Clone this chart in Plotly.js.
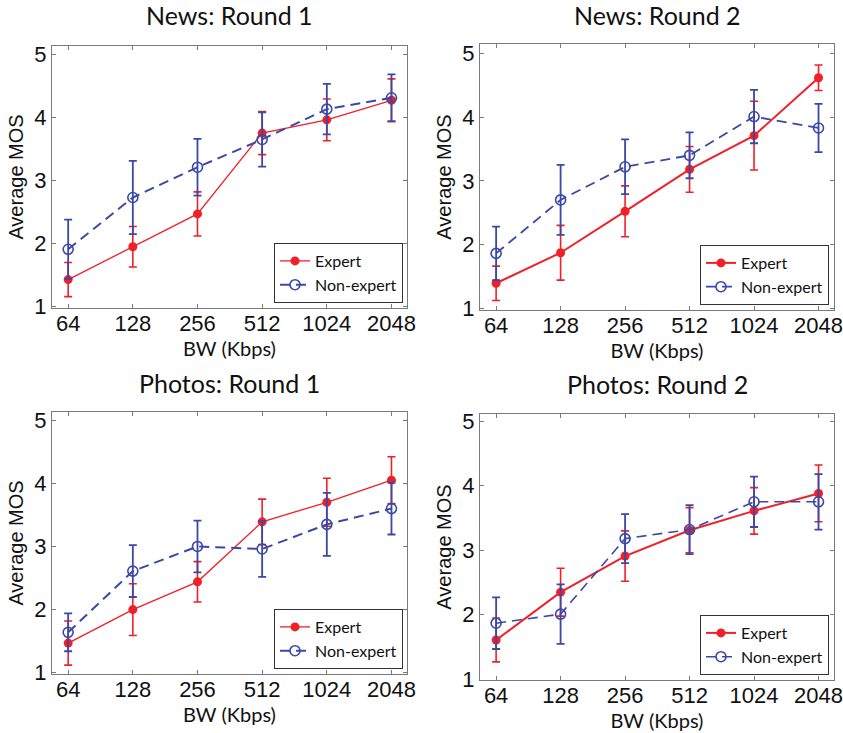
<!DOCTYPE html>
<html>
<head>
<meta charset="utf-8">
<script src="https://cdn.plot.ly/plotly-3.0.1.min.js"></script>
<style>
  html, body { margin: 0; padding: 0; background: #ffffff; }
  #chart { width: 843px; height: 733px; }
</style>
</head>
<body>
<div id="chart"></div>
<script>
// ---- Data ----
const bw = [64, 128, 256, 512, 1024, 2048];
const bwTickLabels = ['64', '128', '256', '512', '1024', '2048'];
const yTicks = [1, 2, 3, 4, 5];

const panelTitles = ['News: Round 1', 'News: Round 2', 'Photos: Round 1', 'Photos: Round 2'];
const seriesNames = ['Expert', 'Non-expert'];

const newsR1Expert       = [1.43, 1.95, 2.47, 3.75, 3.96, 4.27];
const newsR1ExpertErr    = [0.27, 0.32, 0.35, 0.34, 0.33, 0.34];
const newsR1NonExpert    = [1.91, 2.73, 3.21, 3.65, 4.13, 4.31];
const newsR1NonExpertErr = [0.47, 0.58, 0.45, 0.43, 0.40, 0.37];

const newsR2Expert       = [1.39, 1.87, 2.52, 3.18, 3.71, 4.62];
const newsR2ExpertErr    = [0.27, 0.43, 0.40, 0.36, 0.54, 0.20];
const newsR2NonExpert    = [1.86, 2.70, 3.22, 3.40, 4.01, 3.83];
const newsR2NonExpertErr = [0.42, 0.55, 0.43, 0.36, 0.42, 0.38];

const photosR1Expert       = [1.47, 2.00, 2.44, 3.39, 3.70, 4.05];
const photosR1ExpertErr    = [0.35, 0.41, 0.32, 0.36, 0.38, 0.37];
const photosR1NonExpert    = [1.64, 2.61, 3.00, 2.96, 3.35, 3.60];
const photosR1NonExpertErr = [0.30, 0.41, 0.41, 0.44, 0.50, 0.41];

const photosR2Expert       = [1.61, 2.35, 2.91, 3.31, 3.61, 3.88];
const photosR2ExpertErr    = [0.34, 0.37, 0.39, 0.35, 0.36, 0.44];
const photosR2NonExpert    = [1.87, 2.01, 3.18, 3.32, 3.75, 3.75];
const photosR2NonExpertErr = [0.40, 0.46, 0.38, 0.38, 0.39, 0.43];

// ---- Layout geometry (pixels) ----
const W = 843, H = 733;
const panels = [
  { exp: newsR1Expert,   expErr: newsR1ExpertErr,   non: newsR1NonExpert,   nonErr: newsR1NonExpertErr,
    box: [52, 407, 46, 308],  leg: [403, 303], expW: 1.3, nonW: 2.0, titleY: 15, yr: [0.98, 5.13] },
  { exp: newsR2Expert,   expErr: newsR2ExpertErr,   non: newsR2NonExpert,   nonErr: newsR2NonExpertErr,
    box: [480, 834, 44, 310], leg: [829, 305], expW: 2.0, nonW: 1.8, titleY: 15, yr: [0.97, 5.15] },
  { exp: photosR1Expert, expErr: photosR1ExpertErr, non: photosR1NonExpert, nonErr: photosR1NonExpertErr,
    box: [52, 407, 412, 674], leg: [403, 669], expW: 1.3, nonW: 2.0, titleY: 383, yr: [0.98, 5.13] },
  { exp: photosR2Expert, expErr: photosR2ExpertErr, non: photosR2NonExpert, nonErr: photosR2NonExpertErr,
    box: [480, 834, 414, 680], leg: [829, 675], expW: 2.0, nonW: 1.6, titleY: 384, yr: [0.99, 5.11] }
];

const RED = 'rgb(240,32,40)';
const BLUE = 'rgb(58,72,168)';
const AXIS = '#7a7a7a';
const titleFont = 'Lato, "Open Sans", sans-serif';
const tickFont = 'Liberation Sans, Arial, sans-serif';

const logStep = Math.log10(2);
const xRange = [Math.log10(bw[0]) - 0.25 * logStep, Math.log10(bw[bw.length - 1]) + 0.24 * logStep];

const data = [];
const layout = {
  width: W, height: H,
  margin: { l: 0, r: 0, t: 0, b: 0 },
  paper_bgcolor: '#ffffff', plot_bgcolor: '#ffffff',
  showlegend: true,
  annotations: []
};

panels.forEach((p, i) => {
  const n = i + 1;
  const xa = n === 1 ? 'x' : 'x' + n;
  const ya = n === 1 ? 'y' : 'y' + n;
  const legName = n === 1 ? 'legend' : 'legend' + n;

  data.push({
    type: 'scatter', mode: 'lines+markers', name: seriesNames[0],
    x: bw, y: p.exp, xaxis: xa, yaxis: ya, legend: legName,
    line: { color: RED, width: p.expW },
    marker: { color: RED, size: 9, symbol: 'circle' },
    error_y: { type: 'data', array: p.expErr, visible: true, color: RED, thickness: 1.6, width: 4 }
  });
  data.push({
    type: 'scatter', mode: 'lines+markers', name: seriesNames[1],
    x: bw, y: p.non, xaxis: xa, yaxis: ya, legend: legName,
    line: { color: BLUE, width: p.nonW, dash: '10px,6px' },
    marker: { color: BLUE, size: 10, symbol: 'circle-open', line: { color: BLUE, width: 1.6 } },
    error_y: { type: 'data', array: p.nonErr, visible: true, color: BLUE, thickness: 1.8, width: 4 }
  });

  const [l, r, t, b] = p.box;
  layout['xaxis' + (n === 1 ? '' : n)] = {
    type: 'log',
    domain: [l / W, r / W],
    anchor: ya,
    range: xRange,
    tickvals: bw, ticktext: bwTickLabels,
    ticks: 'inside', ticklen: 4, tickcolor: AXIS, tickwidth: 1,
    showline: true, linecolor: AXIS, linewidth: 1, mirror: 'ticks',
    showgrid: false, zeroline: false,
    tickfont: { family: tickFont, size: 22, color: '#111111' },
    ticklabelstandoff: -4,
    ticklabeloverflow: 'allow',
    title: { text: 'BW (Kbps)', font: { family: titleFont, size: 20, color: '#111111' }, standoff: 0 },
    automargin: false
  };
  layout['yaxis' + (n === 1 ? '' : n)] = {
    domain: [1 - b / H, 1 - t / H],
    anchor: xa,
    range: p.yr,
    tickvals: yTicks,
    ticks: 'inside', ticklen: 4, tickcolor: AXIS, tickwidth: 1,
    showline: true, linecolor: AXIS, linewidth: 1, mirror: 'ticks',
    showgrid: false, zeroline: false,
    tickfont: { family: tickFont, size: 22, color: '#111111' },
    ticklabeloverflow: 'allow',
    title: { text: 'Average MOS', font: { family: tickFont, size: 20, color: '#111111' }, standoff: 5 },
    automargin: false
  };
  layout[legName] = {
    x: p.leg[0] / W, y: 1 - p.leg[1] / H,
    xanchor: 'right', yanchor: 'bottom',
    bgcolor: '#ffffff', bordercolor: '#333333', borderwidth: 1,
    font: { family: titleFont, size: 16, color: '#111111' },
    itemwidth: 30
  };
  layout.annotations.push({
    text: panelTitles[i], showarrow: false,
    xref: 'paper', yref: 'paper',
    x: (l + r) / 2 / W, y: 1 - p.titleY / H,
    xanchor: 'center', yanchor: 'middle',
    font: { family: titleFont, size: 25, color: '#111111' }
  });
});

Plotly.newPlot('chart', data, layout, { staticPlot: true, displayModeBar: false });
</script>
</body>
</html>
